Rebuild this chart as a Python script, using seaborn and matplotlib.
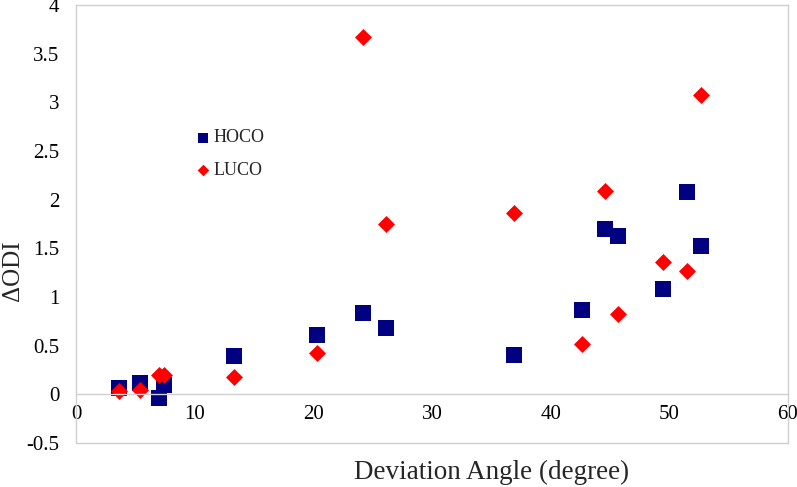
import numpy as np
import pandas as pd
import matplotlib
matplotlib.use("Agg")
import matplotlib.pyplot as plt
import seaborn as sns

# data
angles = [3.6, 5.4, 7.0, 7.4, 13.3, 20.3, 24.2, 26.1, 36.9, 42.6, 44.6, 45.7, 49.5, 51.5, 52.7]
hoco = [0.06, 0.12, -0.04, 0.10, 0.39, 0.61, 0.84, 0.68, 0.40, 0.87, 1.70, 1.63, 1.08, 2.08, 1.52]
luco = [0.03, 0.04, 0.20, 0.20, 0.18, 0.42, 3.67, 1.75, 1.86, 0.52, 2.09, 0.83, 1.36, 1.27, 3.08]
x_ticks = [0, 10, 20, 30, 40, 50, 60]
y_ticks = [-0.5, 0, 0.5, 1, 1.5, 2, 2.5, 3, 3.5, 4]
y_labels = ["-0.5", "0", "0.5", "1", "1.5", "2", "2.5", "3", "3.5", "4"]

df = pd.DataFrame({
  "angle": angles * 2,
  "odi": hoco + luco,
  "group": ["HOCO"] * len(hoco) + ["LUCO"] * len(luco),
})

sns.set_style("white")
plt.rcParams["font.family"] = ["Liberation Serif", "DejaVu Serif"]

fig = plt.figure(figsize=(7.97, 4.87), dpi=100)
ax = fig.add_axes([76/797, 1-443/487, (788-76)/797, (443-5)/487])

grey = "#d0d0d0"
palette = {"HOCO": "#000080", "LUCO": "#ff0000"}
sizes = {"HOCO": 120, "LUCO": 75}
markers = {"HOCO": "s", "LUCO": "D"}
for g in ["HOCO", "LUCO"]:
  sns.scatterplot(
    data=df[df["group"] == g],
    x="angle",
    y="odi",
    color=palette[g],
    marker=markers[g],
    s=sizes[g],
    linewidth=0,
    label=g,
    ax=ax,
  )

ax.set_xlim(0, 60)
ax.set_ylim(-0.5, 4)
ax.set_xticks(x_ticks)
ax.set_yticks(y_ticks)
ax.set_yticklabels(y_labels)

# x axis crosses at y = 0
ax.spines["bottom"].set_position(("data", 0))
for s in ax.spines.values():
  s.set_color(grey)
  s.set_linewidth(1)
ax.axhline(-0.5, color=grey, lw=1, clip_on=False)
ax.tick_params(axis="both", colors=grey, labelcolor="black", labelsize=15,
               length=4, width=1, direction="out")
ax.tick_params(axis="x", pad=4)
ax.tick_params(axis="y", pad=8)

ax.set_xlabel("Deviation Angle (degree)", fontsize=19.5)
ax.xaxis.set_label_coords(0.584, -0.038)
ax.set_ylabel("\u0394ODI", fontsize=18)
ax.yaxis.set_label_coords(-0.073, 0.393)

ax.legend(
  loc="upper left",
  bbox_to_anchor=(0.171, 0.716),
  frameon=False,
  fontsize=13,
  markerscale=0.68,
  handlelength=0.6,
  handletextpad=0.3,
  labelspacing=0.85,
  borderpad=0,
  borderaxespad=0,
)

plt.savefig("out.png", dpi=100)
